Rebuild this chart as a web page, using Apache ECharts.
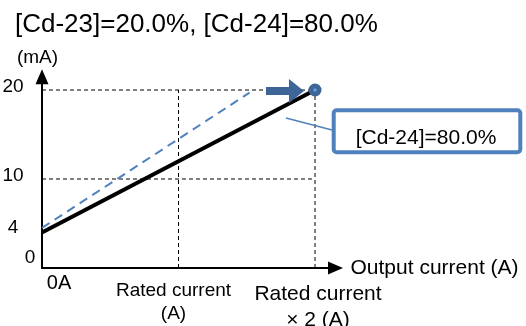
<!DOCTYPE html>
<html><head><meta charset="utf-8">
<script src="https://cdn.jsdelivr.net/npm/echarts@6/dist/echarts.min.js"></script>
<style>html,body{margin:0;padding:0;background:#fff}#c{width:526px;height:326px}</style>
</head><body><div id="c"></div>
<script>
// ---- data ----
const titleText = '[Cd-23]=20.0%, [Cd-24]=80.0%';
const yName = '(mA)';
const xName = 'Output current (A)';
const yTickValues = [0, 4, 10, 20];
const xTickValues = [0, 1, 2];
const xTickLabels = ['0A', 'Rated current\n(A)', 'Rated current\n× 2 (A)'];
const outputLine = [[0, 4], [2, 20]];              // [Cd-24]=80.0% (solid)
const referenceLine = [[0, 4.5], [1.52, 19.7]];    // blue dashed
const guideH20 = [[0, 20], [2, 20]];
const guideH10 = [[0, 10], [2, 10]];
const guideV1 = [[1, 0], [1, 20]];
const guideV2 = [[2, 0], [2, 20]];
const endPoint = [[2, 20]];
const arrowPoint = [[1.78, 19.9]];
const calloutText = '[Cd-24]=80.0%';

// ---- chart ----
const FONT = '"Liberation Sans", Arial, sans-serif';
const chart = echarts.init(document.getElementById('c'), null, {renderer: 'canvas'});

const yRich = {
  y20: {fontSize: 19, color: '#000', padding: [0, 0, 6, 0]},
  y10: {fontSize: 19, color: '#000', padding: [0, 0, 7, 0]},
  y4: {fontSize: 19, color: '#000', padding: [0, 0, 9, 0]},
  y0: {fontSize: 19, color: '#000', padding: [0, 0, 20, 34]}
};
const xStyles = [['a'], ['b1', 'b2'], ['c1', 'c2']];
const xRich = {
  a: {fontSize: 20, lineHeight: 22, color: '#000', padding: [0, 0, 0, 34]},
  b1: {fontSize: 19, lineHeight: 30.5, color: '#000', padding: [7.5, 10, 0, 0]},
  b2: {fontSize: 19, lineHeight: 23, color: '#000', padding: [0, 10, 0, 0]},
  c1: {fontSize: 21, lineHeight: 35, color: '#000', padding: [9, 0, 0, 6]},
  c2: {fontSize: 21, lineHeight: 26, color: '#000', padding: [0, 0, 0, 6]}
};

const guideSeries = [guideH20, guideH10, guideV1, guideV2].map(d => ({
  type: 'line', data: d, showSymbol: false, silent: true, z: 1,
  lineStyle: {color: '#000', width: 1, type: [4, 3]}
}));

chart.setOption({
  animation: false,
  textStyle: {fontFamily: FONT},
  title: {
    text: titleText, left: 10, top: 7,
    textStyle: {fontSize: 26, fontWeight: 'normal', color: '#000', fontFamily: FONT}
  },
  grid: {left: 42, right: 190.5, top: 76.65, bottom: 58, containLabel: false, outerBoundsMode: 'none'},
  xAxis: {
    type: 'value', min: 0, max: 2.15,
    name: xName, nameLocation: 'end', nameGap: 15, nameMoveOverlap: false,
    nameTextStyle: {fontSize: 21, color: '#000', align: 'left', verticalAlign: 'middle'},
    axisLine: {show: true, symbol: ['none', 'triangle'], symbolSize: [13, 15],
      lineStyle: {color: '#000', width: 2}},
    axisTick: {show: false},
    splitLine: {show: false},
    axisLabel: {
      customValues: xTickValues, margin: 4, align: 'center', verticalAlign: 'top',
      hideOverlap: false, showMaxLabel: true,
      formatter: v => {
        const i = xTickValues.indexOf(v);
        if (i < 0) return '';
        return xTickLabels[i].split('\n').map((s, k) => '{' + xStyles[i][k] + '|' + s + '}').join('\n');
      },
      rich: xRich
    }
  },
  yAxis: {
    type: 'value', min: 0, max: 21.5,
    name: yName, nameLocation: 'end', nameGap: 19, nameMoveOverlap: false,
    nameTextStyle: {fontSize: 19, color: '#000', align: 'center', verticalAlign: 'middle', padding: [0, 9, 0, 0]},
    axisLine: {show: true, symbol: ['none', 'triangle'], symbolSize: [13, 15],
      lineStyle: {color: '#000', width: 2}},
    axisTick: {show: false},
    splitLine: {show: false},
    axisLabel: {
      customValues: yTickValues, margin: 29, align: 'center', verticalAlign: 'middle',
      hideOverlap: false, showMaxLabel: true, showMinLabel: true,
      formatter: v => '{y' + v + '|' + v + '}',
      rich: yRich
    }
  },
  series: guideSeries.concat([
    {type: 'line', data: referenceLine, showSymbol: false, silent: true, z: 2,
      lineStyle: {color: '#4F81BD', width: 2, type: [9, 6]}},
    {type: 'line', data: outputLine, showSymbol: false, silent: true, z: 3,
      lineStyle: {color: '#000', width: 4}},
    {type: 'scatter', data: arrowPoint, z: 4, silent: true,
      symbol: 'path://M0,8 L23,8 L23,0 L38,12 L23,24 L23,16 L0,16 Z',
      symbolSize: [38, 24], symbolKeepAspect: false, itemStyle: {color: '#3D6597', opacity: 1}},
    {type: 'scatter', data: endPoint, z: 5, silent: true, symbolSize: 13,
      itemStyle: {color: '#3D6597', opacity: 1}},
    {type: 'scatter', data: endPoint, z: 6, silent: true, symbolSize: 3.5,
      itemStyle: {color: '#6E9DD8', opacity: 1}}
  ]),
  graphic: [
    {type: 'line', shape: {x1: 286, y1: 118, x2: 332, y2: 130},
      style: {stroke: '#4F81BD', lineWidth: 1.5}, z: 10},
    {type: 'rect', shape: {x: 333.7, y: 110.3, width: 186.6, height: 42, r: 3},
      style: {fill: '#fff', stroke: '#4F81BD', lineWidth: 4}, z: 10},
    {type: 'text', x: 426, y: 138, z: 11,
      style: {text: calloutText, fontSize: 21, fill: '#000', align: 'center', verticalAlign: 'middle', fontFamily: FONT}}
  ]
});
</script>
</body></html>
